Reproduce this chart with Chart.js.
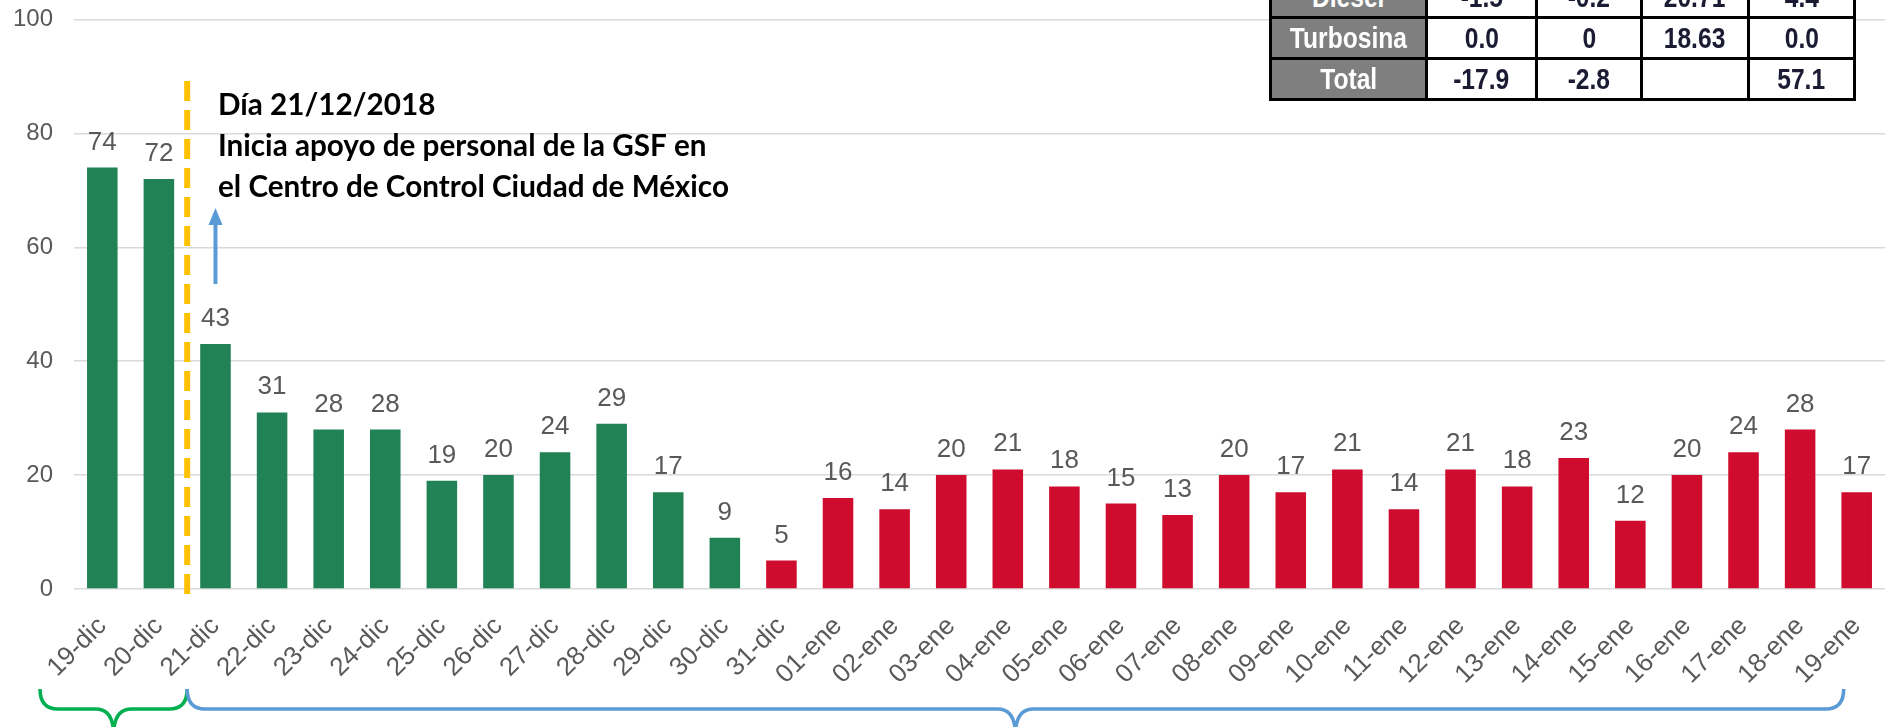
<!DOCTYPE html>
<html>
<head>
<meta charset="utf-8">
<script src="https://cdn.jsdelivr.net/npm/chart.js@4.4.1/dist/chart.umd.min.js"></script>
<style>
  html, body { margin: 0; padding: 0; background: #fff; overflow: hidden; }
  #wrap { position: relative; width: 1895px; height: 727px; overflow: hidden; }
  #chart { position: absolute; left: 0; top: 0; }
  #tabla { position: absolute; left: 1269px; top: -25px; border-collapse: collapse; table-layout: fixed;
           font-family: "Liberation Sans", Arial, sans-serif; font-weight: bold; font-size: 30px; }
  #tabla td { border: 3px solid #000; height: 38px; padding: 0; text-align: center; color: #1b1b33;
              background: #fff; white-space: nowrap; overflow: hidden; line-height: 38px; }
  #tabla td.lbl { background: #7f7f7f; color: #fff; }
  #tabla td span { display: inline-block; transform: scaleX(0.82); }
</style>
</head>
<body>
<div id="wrap">
  <canvas id="chart" width="1895" height="727"></canvas>
  <table id="tabla"></table>
</div>
<script>
// datos
const fechas = ['19-dic','20-dic','21-dic','22-dic','23-dic','24-dic','25-dic','26-dic','27-dic','28-dic','29-dic','30-dic','31-dic',
  '01-ene','02-ene','03-ene','04-ene','05-ene','06-ene','07-ene','08-ene','09-ene','10-ene','11-ene','12-ene','13-ene',
  '14-ene','15-ene','16-ene','17-ene','18-ene','19-ene'];
const valores = [74,72,43,31,28,28,19,20,24,29,17,9,5,
  16,14,20,21,18,15,13,20,17,21,14,21,18,23,12,20,24,28,17];
const ultimoVerde = '30-dic';
const ticksY = [0,20,40,60,80,100];

// tabla (recortada arriba)
const filasTabla = ['Diesel','Turbosina','Total'];
const valoresTabla = [
  ['-1.5','-0.2','20.71','4.4'],
  ['0.0','0','18.63','0.0'],
  ['-17.9','-2.8','','57.1']
];

const notaTexto = ['Día 21/12/2018', 'Inicia apoyo de personal de la GSF en', 'el Centro de Control Ciudad de México'];

// armar la tabla
const anchos = [156,110,105,107,106];
const tabla = document.getElementById('tabla');
let html = '<colgroup>' + anchos.map(w => '<col style="width:' + w + 'px">').join('') + '</colgroup>';
filasTabla.forEach((f, i) => {
  html += '<tr><td class="lbl"><span>' + f + '</span></td>' +
    valoresTabla[i].map(v => '<td><span>' + v + '</span></td>').join('') + '</tr>';
});
tabla.innerHTML = html;

const iVerde = fechas.indexOf(ultimoVerde);
const colores = fechas.map((f, i) => i <= iVerde ? '#218256' : '#d00c2e');

Chart.defaults.font.family = '"Liberation Sans", Arial, sans-serif';
Chart.defaults.color = '#595959';

const etiquetas = {
  id: 'etiquetas',
  afterDatasetsDraw(chart) {
    const ctx = chart.ctx;
    const meta = chart.getDatasetMeta(0);
    ctx.save();
    ctx.font = '26px "Liberation Sans", Arial, sans-serif';
    ctx.fillStyle = '#595959';
    ctx.textAlign = 'center';
    ctx.textBaseline = 'alphabetic';
    meta.data.forEach((bar, i) => {
      ctx.fillText(String(valores[i]), bar.x, bar.y - 18);
    });
    ctx.restore();
  }
};

function llave(ctx, x0, x1, yTop, yMid, yBot, r, color) {
  const xc = (x0 + x1) / 2;
  ctx.strokeStyle = color;
  ctx.lineWidth = 3.5;
  ctx.beginPath();
  ctx.moveTo(x0, yTop);
  ctx.quadraticCurveTo(x0, yMid, x0 + r, yMid);
  ctx.lineTo(xc - r, yMid);
  ctx.quadraticCurveTo(xc, yMid, xc, yBot);
  ctx.moveTo(xc, yBot);
  ctx.quadraticCurveTo(xc, yMid, xc + r, yMid);
  ctx.lineTo(x1 - r, yMid);
  ctx.quadraticCurveTo(x1, yMid, x1, yTop);
  ctx.stroke();
}

const anotaciones = {
  id: 'anotaciones',
  afterDraw(chart) {
    const ctx = chart.ctx;
    const x = chart.scales.x;
    const xCorte = (x.getPixelForValue(1) + x.getPixelForValue(2)) / 2;
    ctx.save();
    // linea punteada
    ctx.strokeStyle = '#ffc000';
    ctx.lineWidth = 6;
    ctx.setLineDash([20, 9]);
    ctx.beginPath();
    ctx.moveTo(xCorte, 81);
    ctx.lineTo(xCorte, 602);
    ctx.stroke();
    ctx.setLineDash([]);

    // flecha
    const xf = x.getPixelForValue(2);
    ctx.strokeStyle = '#5b9bd5';
    ctx.fillStyle = '#5b9bd5';
    ctx.lineWidth = 4;
    ctx.beginPath();
    ctx.moveTo(xf, 284);
    ctx.lineTo(xf, 222);
    ctx.stroke();
    ctx.beginPath();
    ctx.moveTo(xf, 208);
    ctx.lineTo(xf - 7, 225);
    ctx.lineTo(xf + 7, 225);
    ctx.closePath();
    ctx.fill();

    // texto
    ctx.fillStyle = '#000';
    ctx.font = 'bold 30px Lato, sans-serif';
    const w = ctx.measureText(notaTexto[2]).width;
    const s = 30 * 511 / w;
    ctx.font = 'bold ' + s.toFixed(2) + 'px Lato, sans-serif';
    ctx.textAlign = 'left';
    ctx.textBaseline = 'alphabetic';
    [115, 156, 197].forEach((y, i) => ctx.fillText(notaTexto[i], 218, y));

    // llaves
    llave(ctx, 40, xCorte, 689, 709, 735, 18, '#00b050');
    llave(ctx, xCorte, x.getPixelForValue(fechas.length - 1) - 13, 689, 709, 735, 18, '#5b9bd5');
    ctx.restore();
  }
};

new Chart(document.getElementById('chart'), {
  type: 'bar',
  data: {
    labels: fechas,
    datasets: [{
      data: valores,
      backgroundColor: colores,
      barPercentage: 0.9,
      categoryPercentage: 0.6
    }]
  },
  options: {
    responsive: false,
    animation: false,
    devicePixelRatio: 1,
    layout: { padding: { top: 19.5, right: 10, bottom: 0, left: 0 } },
    plugins: { legend: { display: false }, tooltip: { enabled: false } },
    scales: {
      x: {
        grid: { display: false },
        border: { display: false },
        ticks: { autoSkip: false, minRotation: 45, maxRotation: 45, padding: 14,
                 font: { size: 26 }, color: '#595959' },
        afterFit(scale) { scale.height = 138; }
      },
      y: {
        min: 0, max: 100,
        afterBuildTicks(scale) { scale.ticks = ticksY.map(v => ({ value: v })); },
        grid: { color: '#d9d9d9', lineWidth: 1.5, drawTicks: false },
        border: { display: false },
        ticks: { padding: 21, font: { size: 24 }, color: '#595959' },
        afterFit(scale) { scale.width = 74; scale.paddingTop = 0; scale.paddingBottom = 0; }
      }
    }
  },
  plugins: [etiquetas, anotaciones]
});
</script>
</body>
</html>
